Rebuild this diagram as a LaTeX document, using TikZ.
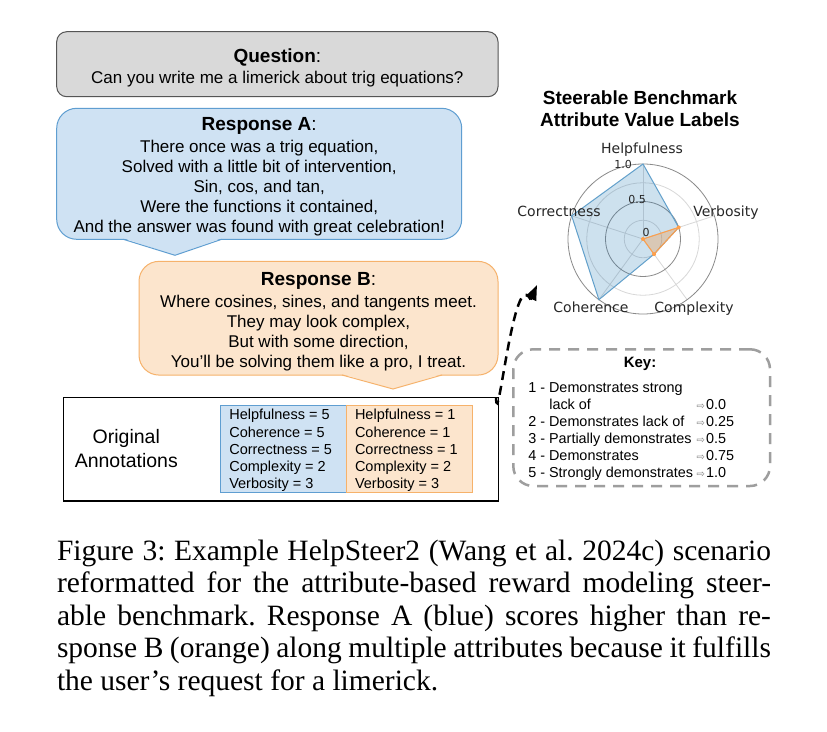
\documentclass[tikz,border=0pt]{standalone}
\usepackage{fontspec}
\setmainfont{Liberation Sans}
\newfontfamily\capfont{Liberation Serif}
\newfontfamily\djv{DejaVu Sans}
\usetikzlibrary{arrows.meta}
\definecolor{qfill}{HTML}{D9D9D9}
\definecolor{qdraw}{HTML}{555555}
\definecolor{afill}{HTML}{CFE2F3}
\definecolor{adraw}{HTML}{5F9ED1}
\definecolor{bfill}{HTML}{FCE5CD}
\definecolor{bdraw}{HTML}{F6B26B}
\definecolor{keygray}{HTML}{9E9E9E}
\definecolor{mplblue}{HTML}{1F77B4}
\definecolor{mplorange}{HTML}{FF7F0E}
\definecolor{gridlight}{HTML}{D8D8D8}
\definecolor{griddark}{HTML}{8A8A8A}
\definecolor{labgray}{HTML}{262626}
\tikzset{
  every node/.style={inner sep=0pt, outer sep=0pt},
  bodytxt/.style={font=\fontsize{17}{20.2}\selectfont, align=center, anchor=north},
  onetxt/.style={font=\fontsize{17}{20.2}\selectfont, anchor=base},
  titletxt/.style={font=\fontsize{19}{22}\selectfont, anchor=base},
  anntxt/.style={font=\fontsize{14.5}{17.25}\selectfont, align=left, anchor=north west},
  keytxt/.style={font=\fontsize{14.4}{17}\selectfont, align=left, anchor=north west},
  radlab/.style={font=\djv\fontsize{14}{16}\selectfont, anchor=base, text=labgray},
  ticklab/.style={font=\djv\fontsize{11}{13}\selectfont, anchor=base, text=labgray},
  qbox/.style={draw=qdraw, fill=qfill, line width=1pt, rounded corners=10pt},
  abox/.style={draw=adraw, fill=afill, line width=1pt, rounded corners=20pt},
  bbox/.style={draw=bdraw, fill=bfill, line width=1pt, rounded corners=20pt},
  annbox/.style={draw=black, fill=white, line width=1.6pt},
  annA/.style={draw=adraw, fill=afill, line width=1pt},
  annB/.style={draw=bdraw, fill=bfill, line width=1pt},
  keybox/.style={draw=keygray, line width=2.5pt, dash pattern=on 11pt off 8pt, rounded corners=20pt},
  dashline/.style={draw=black, line width=2.5pt, dash pattern=on 9pt off 6pt},
  solidtip/.style={draw=black, line width=2.5pt, -{Triangle[length=15pt,width=11pt]}},
  gridl/.style={draw=gridlight, line width=0.8pt},
  gridd/.style={draw=griddark, line width=0.8pt},
  blueseries/.style={draw=mplblue!70, fill=mplblue, fill opacity=0.22, line width=1pt},
  orangeseries/.style={draw=mplorange!75, fill=mplorange, fill opacity=0.25, line width=1pt},
  odot/.style={fill=mplorange!75, circle, minimum size=4pt},
}
\newcommand{\kar}{\makebox[9.5pt][l]{\textcolor{gray}{\djv\fontsize{10}{10}\selectfont ⇨}}}
\begin{document}
\begin{tikzpicture}[x=1pt,y=-1pt]
\useasboundingbox[fill=white] (0,0) rectangle (827,731);

% Question
\node[qbox, minimum width=441.3pt, minimum height=65pt] (q) at (277.35,64.2) {};
\node[titletxt] (qt) at (277.35,62) {\textbf{Question}:};
\node[onetxt] (qq) at (277.35,83) {Can you write me a limerick about trig equations?};

% Response A
\node[abox, minimum width=405pt, minimum height=131pt] (ra) at (259.2,173.8) {};
\fill[afill] (123.3,238.2) -- (175,255.3) -- (221.7,238.2) -- cycle;
\coordinate (aL) at (123.3,239.3);
\coordinate (aT) at (175,255.3);
\coordinate (aR) at (221.7,239.3);
\draw[draw=adraw, line width=1pt] (aL) -- (aT) -- (aR);
\node[titletxt] (rat) at (259.2,130) {\textbf{Response A}:};
\node[bodytxt] (rab) at (259.2,137.86) {\strut There once was a trig equation,\\
\strut Solved with a little bit of intervention,\\
\strut Sin, cos, and tan,\\
\strut Were the functions it contained,\\
\strut And the answer was found with great celebration!};

% Response B
\node[bbox, minimum width=359pt, minimum height=113.7pt] (rb) at (318.5,318.2) {};
\fill[bfill] (342,374) -- (393,389) -- (442,374) -- cycle;
\coordinate (bL) at (342,375);
\coordinate (bT) at (393,389);
\coordinate (bR) at (442,375);
\draw[draw=bdraw, line width=1pt] (bL) -- (bT) -- (bR);
\node[titletxt] (rbt) at (318.5,285) {\textbf{Response B}:};
\node[bodytxt] (rbb) at (318.5,292.86) {\strut Where cosines, sines, and tangents meet.\\
\strut They may look complex,\\
\strut But with some direction,\\
\strut You'll be solving them like a pro, I treat.};

% Original annotations
\node[annbox, minimum width=435pt, minimum height=103.4pt] (annot) at (280.8,449) {};
\node[annA, minimum width=126pt, minimum height=87.7pt] (aa) at (283,448.85) {};
\node[annB, minimum width=126.7pt, minimum height=87.7pt] (ab) at (409.35,448.85) {};
\node[font=\fontsize{19.5}{24}\selectfont, align=center, anchor=north] (orig) at (126.3,426.9)
  {\strut Original\\ \strut Annotations};
\node[anntxt] (aat) at (229.3,407.9) {\strut Helpfulness = 5\\ \strut Coherence = 5\\ \strut Correctness = 5\\ \strut Complexity = 2\\ \strut Verbosity = 3};
\node[anntxt] (abt) at (355,407.9) {\strut Helpfulness = 1\\ \strut Coherence = 1\\ \strut Correctness = 1\\ \strut Complexity = 2\\ \strut Verbosity = 3};

% Key
\node[keybox, minimum width=256.7pt, minimum height=136.7pt] (key) at (641.65,417.65) {};
\node[font=\fontsize{15}{17}\selectfont\bfseries, anchor=base] (keyt) at (640,367.7) {Key:};
\node[keytxt] (keyl) at (528.3,380.8) {\strut 1 - Demonstrates strong\\
\strut\hspace*{21pt}lack of\\
\strut 2 - Demonstrates lack of\\
\strut 3 - Partially demonstrates\\
\strut 4 - Demonstrates\\
\strut 5 - Strongly demonstrates};
\node[keytxt] (keyr) at (696.5,397.8) {\strut\kar 0.0\\ \strut\kar 0.25\\ \strut\kar 0.5\\ \strut\kar 0.75\\ \strut\kar 1.0};

% Radar title
\node[font=\fontsize{19}{22}\selectfont\bfseries, align=center, anchor=north] (rtitle) at (640,88.6)
  {\strut Steerable Benchmark\\ \strut Attribute Value Labels};

% Radar chart
\begin{scope}[shift={(643,239)}, yscale=-1]
  \foreach \a in {90,162,234,306,18} \draw[gridl] (0,0) -- (\a:75);
  \draw[gridl] (0,0) circle[radius=18.75];
  \draw[gridl] (0,0) circle[radius=56.25];
  \draw[gridd] (0,0) circle[radius=37.5];
  \draw[gridd] (0,0) circle[radius=75];
  \filldraw[blueseries] (90:75) -- (162:75) -- (234:75) -- (306:18.75) -- (18:37.5) -- cycle;
  \filldraw[orangeseries] (0,0) -- (306:18.75) -- (18:37.5) -- cycle;
  \node[odot] (o0) at (0,0) {};
  \node[odot] (o1) at (306:18.75) {};
  \node[odot] (o2) at (18:37.5) {};
\end{scope}
\node[radlab] (lh) at (642,153) {Helpfulness};
\node[radlab] (lcr) at (559,216) {Correctness};
\node[radlab] (lv) at (726,216) {Verbosity};
\node[radlab] (lco) at (591,312) {Coherence};
\node[radlab] (lcx) at (694,312) {Complexity};
\node[ticklab] (t1) at (623,168) {1.0};
\node[ticklab] (t5) at (637,203) {0.5};
\node[ticklab] (t0) at (646,236) {0};

% Dashed arrow
\coordinate (arrstart) at ([xshift=-2.3pt]annot.north east);
\coordinate (arrtip) at (537,285);
\coordinate (arrpre) at (530.5,299.6);
\draw[dashline] (arrstart) to[out=-88, in=114] (arrpre);
\draw[solidtip] (arrpre) -- (arrtip);

% Caption
\node[font=\capfont\fontsize{29.5}{32.5}\selectfont\frenchspacing, text width=714pt, align=justify, anchor=north west] (cap) at (57,537.25)
{\strut Figure 3: Example HelpSteer2 (Wang et al. 2024c) scenario\linebreak
reformatted for the attribute-based reward modeling steer-\linebreak
able benchmark. Response A (blue) scores higher than re-\linebreak
sponse B (orange) along multiple attributes because it fulfills\linebreak
the user’s request for a limerick.};
\end{tikzpicture}
\end{document}
